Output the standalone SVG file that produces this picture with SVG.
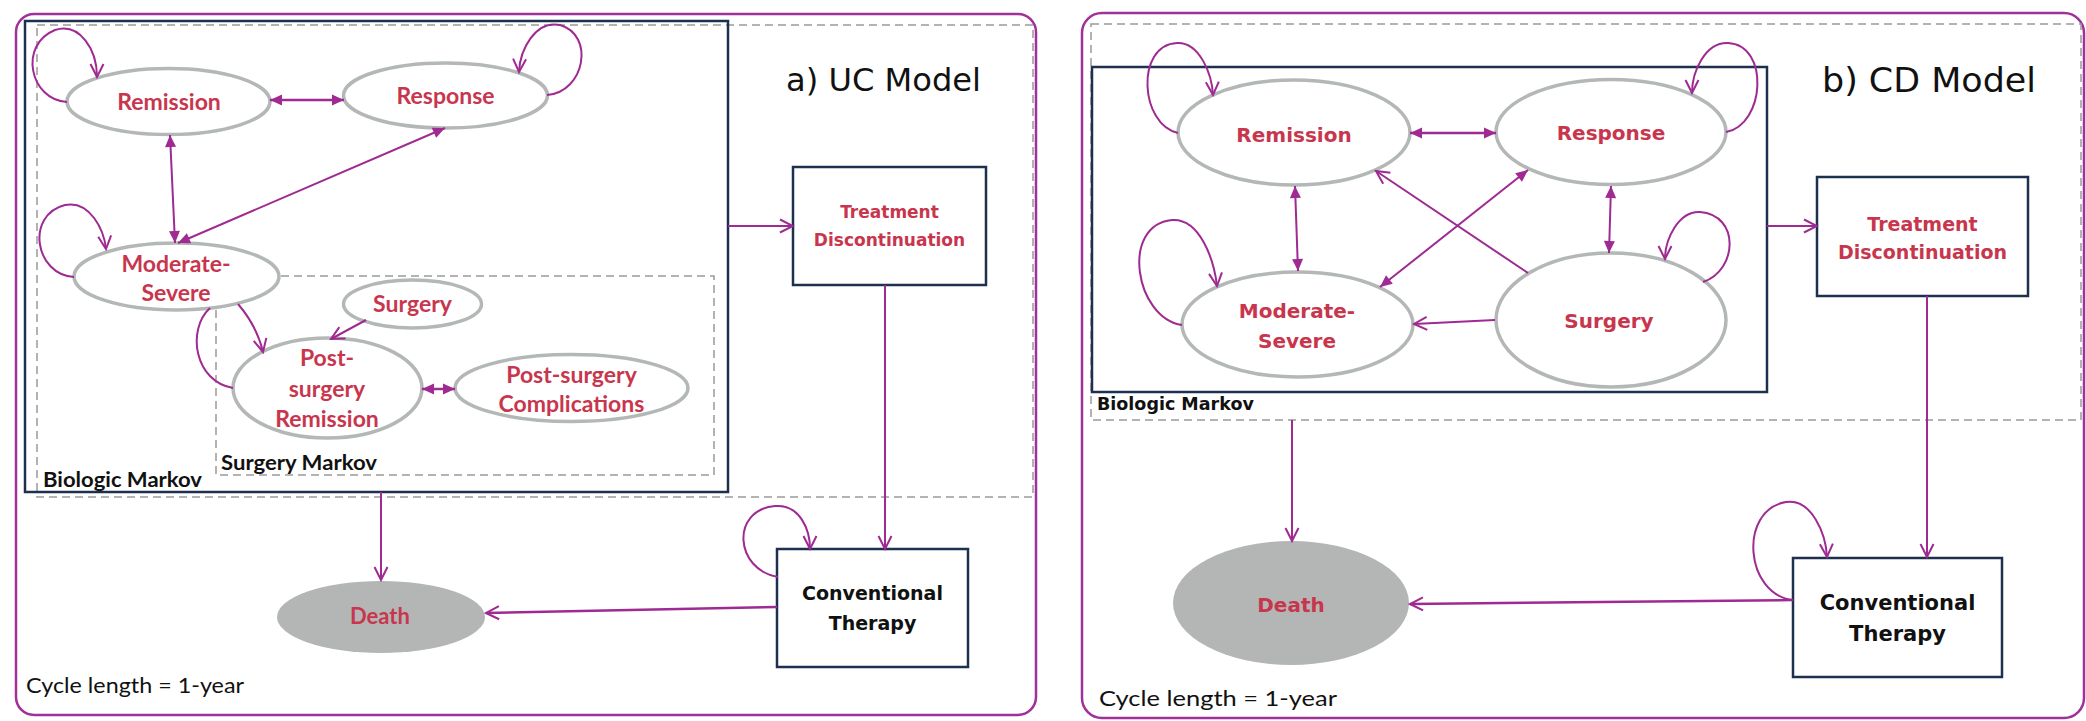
<svg xmlns="http://www.w3.org/2000/svg" width="2086" height="721" viewBox="0 0 2086 721">
<style>
.panel{fill:none;stroke:#A0309A;stroke-width:2.5}
.dash{fill:none;stroke:#9A9A9A;stroke-width:1.5;stroke-dasharray:8 5}
.bluebox{fill:none;stroke:#1E3050;stroke-width:2.5}
.box{fill:#fff;stroke:#1E3050;stroke-width:2.5}
.ell{fill:#fff;stroke:#B3B8B6;stroke-width:3.5}
.death{fill:#B3B6B5;stroke:none}
.c{fill:none;stroke:#9E2A92;stroke-width:2}
.c2{fill:none;stroke:#9E2A92;stroke-width:2.5}
.lt{font-family:Lato,'Liberation Sans',sans-serif;font-weight:bold;font-size:23px;fill:#C8364E;text-anchor:middle}
.rt{font-family:'DejaVu Sans',Verdana,sans-serif;font-weight:bold;font-size:20px;fill:#C8364E;text-anchor:middle}
.bk{font-family:'DejaVu Sans',Verdana,sans-serif;font-weight:bold;fill:#111;text-anchor:middle}
.lab{font-family:Lato,'Liberation Sans',sans-serif;font-weight:bold;font-size:20px;fill:#111}
.cyc{font-family:Lato,'Liberation Sans',sans-serif;font-size:22px;fill:#111}
.title{font-family:'DejaVu Sans',Verdana,sans-serif;fill:#111}
</style>
<defs>
<marker id="open" markerUnits="userSpaceOnUse" viewBox="-15 -9 17 18" markerWidth="17" markerHeight="18" refX="0" refY="0" orient="auto"><path d="M-13,-6.5 L0,0 L-13,6.5" fill="none" stroke="#9E2A92" stroke-width="2"/></marker>
<marker id="fill" markerUnits="userSpaceOnUse" viewBox="-13 -7 14 14" markerWidth="14" markerHeight="14" refX="0" refY="0" orient="auto-start-reverse"><path d="M-12,-5.5 L0,0 L-12,5.5 z" fill="#9E2A92"/></marker>
</defs>
<rect width="2086" height="721" fill="#fff"/>

<!-- Left panel containers -->
<g id="panel-a">
<rect class="panel" x="16" y="14" width="1020" height="701" rx="18"/>
<rect class="dash" x="37" y="25" width="996" height="472"/>
<rect class="bluebox" x="25" y="21" width="703" height="471"/>
<rect class="dash" x="216" y="276" width="498" height="199"/>
<text class="lab" x="221" y="470" textLength="156" lengthAdjust="spacingAndGlyphs">Surgery Markov</text>
<text class="lab" x="43" y="487" textLength="159" lengthAdjust="spacingAndGlyphs">Biologic Markov</text>
<text class="title" x="786" y="91" font-size="32" textLength="195" lengthAdjust="spacingAndGlyphs">a) UC Model</text>
<text class="cyc" x="26" y="693" textLength="218" lengthAdjust="spacingAndGlyphs">Cycle length = 1-year</text>
</g>

<!-- Right panel containers -->
<g id="panel-b">
<rect class="panel" x="1082" y="13" width="1002" height="705" rx="20"/>
<rect class="dash" x="1091" y="24" width="990" height="396"/>
<rect class="bluebox" x="1092" y="67" width="675" height="325"/>
<text class="bk" x="1097" y="410" font-size="17.5" style="text-anchor:start">Biologic Markov</text>
<text class="title" x="1822" y="92" font-size="34" textLength="214" lengthAdjust="spacingAndGlyphs">b) CD Model</text>
<text class="cyc" x="1099" y="706" textLength="238" lengthAdjust="spacingAndGlyphs">Cycle length = 1-year</text>
</g>

<!-- Left nodes -->
<g id="a-remission"><ellipse class="ell" cx="168.5" cy="101.5" rx="101.5" ry="33"/><text class="lt" x="169" y="110">Remission</text></g>
<g id="a-response"><ellipse class="ell" cx="445.5" cy="95.5" rx="102" ry="32.5"/><text class="lt" x="445.5" y="104">Response</text></g>
<g id="a-moderate"><ellipse class="ell" cx="176.5" cy="276.5" rx="102.5" ry="33.5"/><text class="lt" x="176" y="272">Moderate-</text><text class="lt" x="176" y="301">Severe</text></g>
<g id="a-surgery"><ellipse class="ell" cx="412.5" cy="304" rx="69" ry="24"/><text class="lt" x="412.5" y="312">Surgery</text></g>
<g id="a-postsurgery"><ellipse class="ell" cx="327.5" cy="388" rx="94.5" ry="50"/><text class="lt" x="327" y="366">Post-</text><text class="lt" x="327" y="397">surgery</text><text class="lt" x="327" y="427">Remission</text></g>
<g id="a-complications"><ellipse class="ell" cx="571.5" cy="388" rx="116.5" ry="33.5"/><text class="lt" x="571.5" y="383">Post-surgery</text><text class="lt" x="571.5" y="412">Complications</text></g>
<g id="a-treatment"><rect class="box" x="793" y="167" width="193" height="118"/><text class="bk" x="889.5" y="218" font-size="17" style="fill:#C8364E">Treatment</text><text class="bk" x="889.5" y="246" font-size="17" style="fill:#C8364E">Discontinuation</text></g>
<g id="a-conventional"><rect class="box" x="777" y="549" width="191" height="118"/><text class="bk" x="872.5" y="600" font-size="19">Conventional</text><text class="bk" x="872.5" y="630" font-size="19">Therapy</text></g>
<g id="a-death"><ellipse class="death" cx="381" cy="617" rx="104" ry="36"/><text class="lt" x="380" y="624" style="font-size:22px">Death</text></g>

<!-- Right nodes -->
<g id="b-remission"><ellipse class="ell" cx="1294" cy="132.5" rx="116" ry="52.5"/><text class="rt" x="1294" y="142">Remission</text></g>
<g id="b-response"><ellipse class="ell" cx="1611" cy="132" rx="115" ry="52.5"/><text class="rt" x="1611" y="140">Response</text></g>
<g id="b-moderate"><ellipse class="ell" cx="1297.5" cy="324.5" rx="115.5" ry="52.5"/><text class="rt" x="1297" y="318">Moderate-</text><text class="rt" x="1297" y="348">Severe</text></g>
<g id="b-surgery"><ellipse class="ell" cx="1611" cy="320" rx="115" ry="67"/><text class="rt" x="1609" y="328">Surgery</text></g>
<g id="b-treatment"><rect class="box" x="1817" y="177" width="211" height="119"/><text class="rt" x="1922.5" y="231" style="font-size:19px">Treatment</text><text class="rt" x="1922.5" y="259" style="font-size:19px">Discontinuation</text></g>
<g id="b-conventional"><rect class="box" x="1793" y="558" width="209" height="119"/><text class="bk" x="1897.5" y="610" font-size="21">Conventional</text><text class="bk" x="1897.5" y="641" font-size="21">Therapy</text></g>
<g id="b-death"><ellipse class="death" cx="1291" cy="603" rx="118" ry="62"/><text class="rt" x="1291" y="612">Death</text></g>

<!-- Connectors -->
<g id="connectors">
<path class="c" d="M67 102 C30 100 18 45 55 30 C80 22 97 50 97 77" marker-end="url(#open)"/>
<path class="c" d="M547 95 C585 92 595 35 560 25 C535 20 520 50 519 72" marker-end="url(#open)"/>
<path class="c" d="M74 277 C35 275 25 215 65 205 C90 200 104 230 106 249" marker-end="url(#open)"/>
<path class="c" d="M233 388 C195 382 186 330 210 308"/>
<path class="c" d="M238 304 C250 318 259 335 263 352" marker-end="url(#open)"/>
<path class="c" d="M778 577 C735 570 730 510 775 506 C800 504 810 530 810 549" marker-end="url(#open)"/>
<path class="c2" d="M270 100 L344 100" marker-start="url(#fill)" marker-end="url(#fill)"/>
<path class="c" d="M170 135 L175 243" marker-start="url(#fill)" marker-end="url(#fill)"/>
<path class="c" d="M445 128 L178 243" marker-start="url(#fill)" marker-end="url(#fill)"/>
<path class="c" d="M366 320 L331 339" marker-end="url(#open)"/>
<path class="c2" d="M422 389 L455 389" marker-start="url(#fill)" marker-end="url(#fill)"/>
<path class="c" d="M728 226 L793 226" marker-end="url(#open)"/>
<path class="c" d="M885 285 L885 549" marker-end="url(#open)"/>
<path class="c" d="M381 492 L381 580" marker-end="url(#open)"/>
<path class="c2" d="M777 607 L486 613" marker-end="url(#open)"/>

<path class="c" d="M1178 133 C1140 125 1135 45 1177 43 C1200 42 1212 75 1213 95" marker-end="url(#open)"/>
<path class="c" d="M1726 132 C1765 125 1770 45 1728 43 C1705 42 1692 72 1692 93" marker-end="url(#open)"/>
<path class="c" d="M1182 325 C1135 318 1120 225 1172 220 C1200 218 1214 260 1217 286" marker-end="url(#open)"/>
<path class="c" d="M1703 282 C1738 270 1740 215 1700 212 C1678 211 1665 240 1665 259" marker-end="url(#open)"/>
<path class="c" d="M1793 600 C1745 595 1738 510 1786 502 C1812 498 1826 535 1827 557" marker-end="url(#open)"/>
<path class="c2" d="M1410 133 L1496 133" marker-start="url(#fill)" marker-end="url(#fill)"/>
<path class="c" d="M1295 186 L1298 271" marker-start="url(#fill)" marker-end="url(#fill)"/>
<path class="c" d="M1611 186 L1609 253" marker-start="url(#fill)" marker-end="url(#fill)"/>
<path class="c" d="M1528 170 L1380 287" marker-start="url(#fill)" marker-end="url(#fill)"/>
<path class="c" d="M1528 273 L1376 171" marker-end="url(#open)"/>
<path class="c" d="M1495 320 L1414 324" marker-end="url(#open)"/>
<path class="c" d="M1767 226 L1817 226" marker-end="url(#open)"/>
<path class="c" d="M1927 296 L1927 557" marker-end="url(#open)"/>
<path class="c" d="M1292 420 L1292 541" marker-end="url(#open)"/>
<path class="c2" d="M1793 600 L1410 604" marker-end="url(#open)"/>
</g>
</svg>
